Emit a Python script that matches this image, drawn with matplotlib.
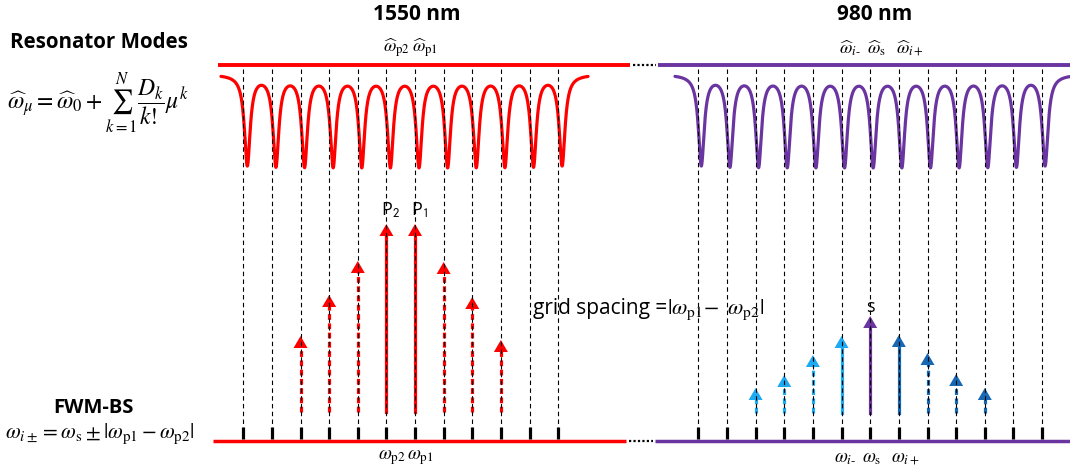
import numpy as np
import matplotlib
matplotlib.use('Agg')
import matplotlib.pyplot as plt
from matplotlib.patches import Polygon

plt.rcParams['mathtext.fontset'] = 'stix'
plt.rcParams['font.family'] = ['Open Sans', 'DejaVu Sans']

# mode grids (pixel layout, 1 data unit = 1 px)
red_x0, red_dx, red_n = 243.3, 28.62, 12
pur_x0, pur_dx, pur_n = 698.3, 28.65, 13

# arrow amplitudes per mode index
red_idx = [2, 3, 4, 5, 6, 7, 8, 9]
red_amp = [76, 117, 151, 188, 188, 150, 115, 72]
red_solid = [False, False, False, True, True, False, False, False]

pur_idx = [2, 3, 4, 5, 6, 7, 8, 9, 10]
pur_amp = [25, 38, 58, 77, 97, 78, 60, 39, 25]
pur_solid = [False, False, False, True, True, True, False, False, False]

RED = '#ff0000'
PURPLE = '#6a35a0'
LBLUE = '#1eaaf0'
DBLUE = '#1668b4'
pur_cols = [LBLUE] * 4 + [PURPLE] + [DBLUE] * 4

red_x = red_x0 + red_dx * np.arange(red_n)
pur_x = pur_x0 + pur_dx * np.arange(pur_n)

fig = plt.figure(figsize=(10.7, 4.75), dpi=100)
ax = fig.add_axes([0, 0, 1, 1])
ax.set_xlim(0, 1070)
ax.set_ylim(475, 0)
ax.axis('off')

y_top, y_bot = 65, 440.5
base_red, base_pur = 412, 413


def dips(xs, x_start, x_end, color, shift):
    # lorentzian resonances for the transmission sketch
    x = np.linspace(x_start, x_end, 3000)
    s = np.zeros_like(x)
    for xk in xs:
        s += 1.0 / (1.0 + ((x - xk - shift) / 3.5) ** 2)
    ax.plot(x, 74 + 90 * s, color=color, lw=2.3, solid_capstyle='round', zorder=3)


def arrow(x, amp, base, color, solid):
    tip = base - amp
    head_h, head_w = 12, 7
    ax.plot([x, x], [base, tip + head_h - 1], color=color, lw=2.3,
            ls='-' if solid else (0, (1.8, 1.1)), zorder=2)
    ax.add_patch(Polygon([[x - head_w, tip + head_h], [x + head_w, tip + head_h], [x, tip]],
                         closed=True, color=color, lw=0, zorder=2))


# top and bottom rails
ax.plot([218, 630], [y_top, y_top], color=RED, lw=2.8, solid_capstyle='butt')
ax.plot([658, 1070], [y_top, y_top], color=PURPLE, lw=2.8, solid_capstyle='butt')
ax.plot([633, 656], [y_top, y_top], color='black', lw=1.6, ls=(0, (1, 1)))
ax.plot([213, 626], [y_bot, y_bot], color=RED, lw=2.5, solid_capstyle='butt')
ax.plot([655, 1070], [y_bot, y_bot], color=PURPLE, lw=2.5, solid_capstyle='butt')
ax.plot([629, 653], [y_bot, y_bot], color='black', lw=1.6, ls=(0, (1, 1)))

dips(red_x, 221, 588, RED, 4)
dips(pur_x, 675, 1070, PURPLE, 3)

# grid lines and ticks
for x in np.concatenate([red_x, pur_x]):
    ax.plot([x, x], [69, 427], color='black', lw=0.8, ls=(0, (4, 3)), zorder=4)
    ax.plot([x, x], [427, 438.5], color='black', lw=2.3, solid_capstyle='butt', zorder=4)

for i, a, s in zip(red_idx, red_amp, red_solid):
    arrow(red_x[i], a, base_red, RED, s)
for i, a, s, c in zip(pur_idx, pur_amp, pur_solid, pur_cols):
    arrow(pur_x[i], a, base_pur, c, s)

# headings
ax.text(417, 14, '1550 nm', ha='center', va='center', fontsize=15, fontweight='bold')
ax.text(875, 14, '980 nm', ha='center', va='center', fontsize=15, fontweight='bold')
ax.text(99, 43, 'Resonator Modes', ha='center', va='center', fontsize=14.8, fontweight='bold')
ax.text(98, 104, r'$\widehat{\omega}_\mu = \widehat{\omega}_0 + \sum_{k=1}^{N}\dfrac{D_k}{k!}\mu^k$',
        ha='center', va='center', fontsize=17)
ax.text(93, 408, 'FWM-BS', ha='center', va='center', fontsize=14.5, fontweight='bold')
ax.text(5, 434, r'$\omega_{i\pm} = \omega_{\mathrm{s}} \pm |\omega_{\mathrm{p1}} - \omega_{\mathrm{p2}}|$',
        ha='left', va='center', fontsize=15.5)

# mode labels
top_labels = [(red_x[5], r'$\widehat{\omega}_{\mathrm{p2}}$'), (red_x[6], r'$\widehat{\omega}_{\mathrm{p1}}$'),
              (pur_x[5], r'$\widehat{\omega}_{i\text{-}}$'), (pur_x[6], r'$\widehat{\omega}_{\mathrm{s}}$'),
              (pur_x[7], r'$\widehat{\omega}_{i+}$')]
for x, t in top_labels:
    ax.text(x - 3, 48, t, ha='left', va='center', fontsize=13)

bot_labels = [(red_x[5], r'$\omega_{\mathrm{p2}}$'), (red_x[6], r'$\omega_{\mathrm{p1}}$'),
              (pur_x[5], r'$\omega_{i\text{-}}$'), (pur_x[6], r'$\omega_{\mathrm{s}}$'),
              (pur_x[7], r'$\omega_{i+}$')]
for x, t in bot_labels:
    ax.text(x - 8, 458, t, ha='left', va='center', fontsize=13.5)

ax.text(red_x[5] + 4, 210, r'P$_{\mathsf{2}}$', ha='center', va='center', fontsize=13)
ax.text(red_x[6] + 4, 210, r'P$_{\mathsf{1}}$', ha='center', va='center', fontsize=13)
ax.text(pur_x[6], 307, 's', ha='center', va='center', fontsize=13)

ax.text(533, 314, 'grid spacing =', ha='left', va='baseline', fontsize=15)
ax.text(667, 314, r'$|\omega_{\mathrm{p1}}\!-\ \omega_{\mathrm{p2}}|$', ha='left', va='baseline', fontsize=16)

fig.savefig('out.png', dpi=100)
